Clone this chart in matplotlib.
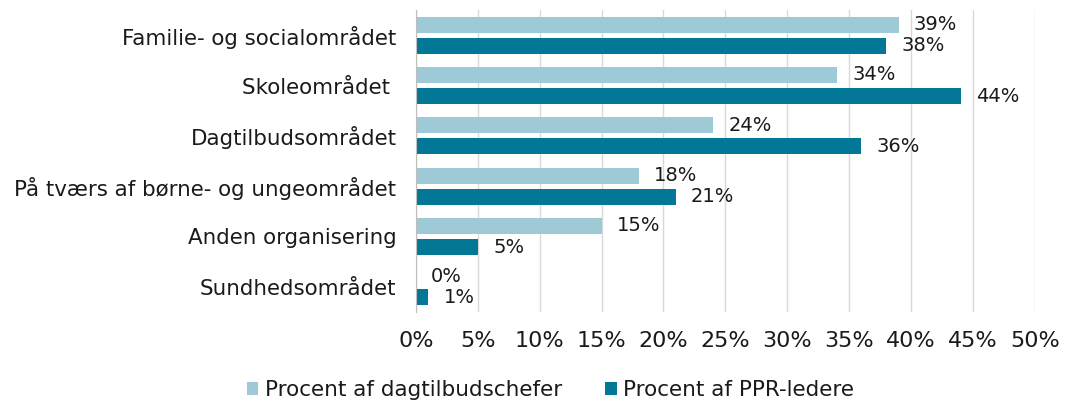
import matplotlib.pyplot as plt
import numpy as np

categories = [
    "Familie- og socialområdet",
    "Skoleområdet ",
    "Dagtilbudsområdet",
    "På tværs af børne- og ungeområdet",
    "Anden organisering",
    "Sundhedsområdet",
]
dagtilbud = [39, 34, 24, 18, 15, 0]
ppr = [38, 44, 36, 21, 5, 1]
series_names = ["Procent af dagtilbudschefer", "Procent af PPR-ledere"]
xticks = [0, 5, 10, 15, 20, 25, 30, 35, 40, 45, 50]

LIGHT = "#9dcad6"
DARK = "#027896"
TEXT = "#1a1a1a"

plt.rcParams.update({"font.family": "DejaVu Sans", "font.size": 15})
fig = plt.figure(figsize=(10.69, 4.01), dpi=100)
ax = fig.add_axes([0.389, 0.222, 0.579, 0.753])

y = np.arange(len(categories))
h = 0.32
b1 = ax.barh(y - 0.21, dagtilbud, height=h, color=LIGHT, label=series_names[0])
b2 = ax.barh(y + 0.21, ppr, height=h, color=DARK, label=series_names[1])

for bars, vals in ((b1, dagtilbud), (b2, ppr)):
    for bar, v in zip(bars, vals):
        ax.annotate(f"{v}%", (v, bar.get_y() + bar.get_height() / 2),
                    xytext=(11, 0), textcoords="offset points",
                    va="center", ha="left", fontsize=14, color=TEXT)

ax.set_ylim(5.5, -0.5)
ax.set_xlim(0, 50)
ax.set_yticks(y)
ax.set_yticklabels(categories, color=TEXT, fontsize=15.4)
ax.set_xticks(xticks)
ax.set_xticklabels([f"{t}%" for t in xticks], color=TEXT, fontsize=16)
ax.tick_params(axis="y", length=0, pad=14)
ax.tick_params(axis="x", length=0, pad=14)
ax.xaxis.grid(True, color="#d9d9d9", linewidth=1)
ax.set_axisbelow(True)
for s in ("top", "right", "bottom"):
    ax.spines[s].set_visible(False)
ax.spines["left"].set_color("#bfbfbf")

fig.legend(handles=[b1, b2], labels=series_names, loc="lower center",
           bbox_to_anchor=(0.515, -0.047), ncol=2, frameon=False,
           handlelength=0.55, handleheight=0.55, handletextpad=0.3,
           columnspacing=2.0, fontsize=15.5, labelcolor=TEXT)

fig.savefig("out.png", dpi=100, facecolor="white")
